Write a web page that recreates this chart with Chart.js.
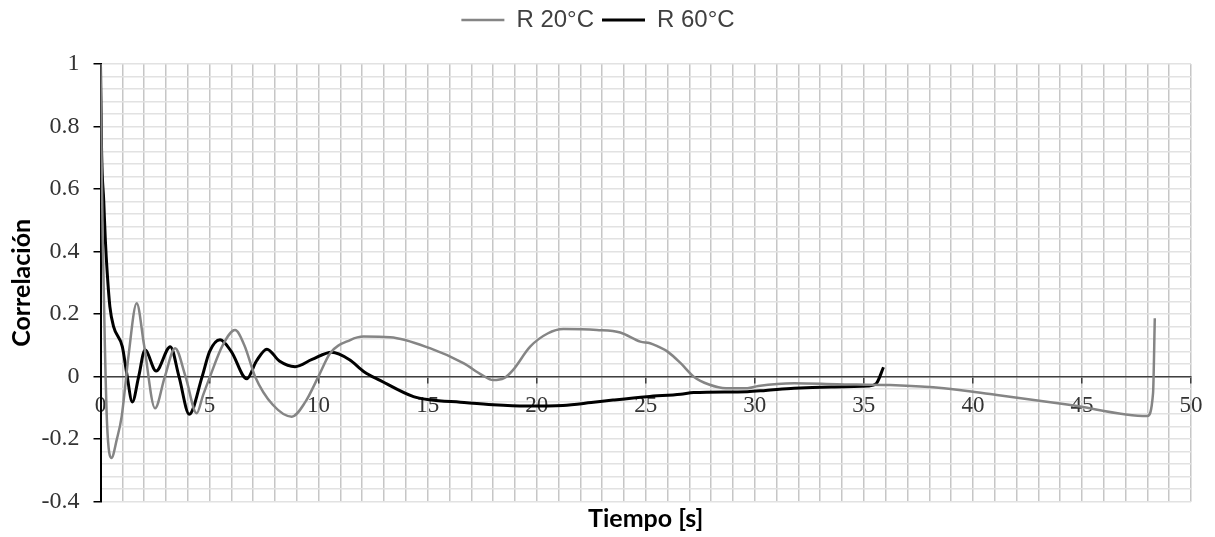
<!DOCTYPE html>
<html>
<head>
<meta charset="utf-8">
<script src="https://cdn.jsdelivr.net/npm/chart.js@4/dist/chart.umd.min.js"></script>
<style>
    html, body { margin: 0; padding: 0; background: #fff; }
</style>
</head>
<body>
<canvas id="corrChart" width="1215" height="537"></canvas>
<script>
// R 20°C
const timeR20 = [0, 0.05, 0.1, 0.2, 0.3, 0.5, 0.75, 0.97, 1.15, 1.28, 1.66, 2.0, 2.5, 2.95, 3.42, 3.9, 4.41, 4.7,
    5.02, 5.6, 6.17, 6.6, 7.09, 7.9, 8.77, 9.4, 9.99, 10.53, 11.45, 12.06, 13.28, 15.1, 16.64, 17.5, 18.0, 18.5,
    18.9, 19.7, 20.5, 21.23, 22.76, 23.83, 24.75, 25.2, 25.57, 26.0, 26.6, 27.2, 27.9, 28.68, 29.66, 30.16, 31.8,
    33.76, 36.2, 38.67, 41.1, 44.4, 48.0, 48.26, 48.34];
const corrR20 = [1, 0.7, 0.45, 0.1, -0.15, -0.26, -0.2, -0.128, -0.02, 0.064, 0.235, 0.1, -0.101, 0.0, 0.091, 0.0, -0.117, -0.06,
    0.0, 0.1, 0.149, 0.1, 0.0, -0.09, -0.128, -0.08, 0.0, 0.075, 0.117, 0.128, 0.126, 0.091, 0.043, 0.005, -0.011, -0.005,
    0.02, 0.096, 0.138, 0.152, 0.149, 0.141, 0.112, 0.107, 0.096, 0.08, 0.043, 0.0, -0.025, -0.037, -0.037, -0.03, -0.021,
    -0.024, -0.027, -0.037, -0.059, -0.09, -0.126, -0.053, 0.187];

// R 60°C
const timeR60 = [0, 0.05, 0.15, 0.22, 0.31, 0.43, 0.6, 1.0, 1.2, 1.46, 1.75, 2.04, 2.55, 3.2, 3.6, 4.07, 4.66, 5.0,
    5.48, 6.0, 6.71, 7.15, 7.63, 8.2, 8.92, 9.7, 10.6, 11.4, 12.08, 12.82, 14.35, 15.1, 16.5, 18.0, 19.5, 21.2, 22.5,
    23.5, 25.05, 26.6, 27.2, 29.66, 30.5, 31.8, 33.5, 35.2, 35.57, 35.9];
const corrR60 = [1, 0.72, 0.56, 0.44, 0.33, 0.224, 0.16, 0.096, 0.012, -0.081, 0.0, 0.085, 0.018, 0.096, 0.0, -0.12, 0.0, 0.08,
    0.118, 0.08, -0.007, 0.05, 0.088, 0.05, 0.032, 0.055, 0.078, 0.055, 0.016, -0.012, -0.064, -0.074, -0.082, -0.09, -0.094, -0.092, -0.083,
    -0.075, -0.064, -0.056, -0.051, -0.048, -0.044, -0.037, -0.033, -0.03, -0.022, 0.03];

const xTickLabels = [0, 5, 10, 15, 20, 25, 30, 35, 40, 45, 50];
const yTickLabels = ['-0.4', '-0.2', '0', '0.2', '0.4', '0.6', '0.8', '1'];

const toPoints = (xs, ys) => xs.map((x, i) => ({ x, y: ys[i] }));

const isMajorX = v => xTickLabels.includes(Math.round(v * 1000) / 1000);
const majorYLabel = v => {
    const r = Math.round(v * 5);
    if (Math.abs(v * 5 - r) > 1e-6) return null;
    const idx = r + 2;
    return yTickLabels[idx] !== undefined ? yTickLabels[idx] : null;
};

// push the plot down below the legend
const legendSpacer = {
    id: 'legendSpacer',
    beforeInit(chart) {
        const origFit = chart.legend.fit;
        chart.legend.fit = function () {
            origFit.bind(chart.legend)();
            this.height += 22;
        };
    }
};

const serifTicks = "'Liberation Serif', 'DejaVu Serif', serif";
const sansTitle = "Lato, 'Liberation Sans', sans-serif";
const LEFT_PAD = 5;
const PLOT_LEFT = 100.5;
const BOTTOM_PAD = 1;
const PLOT_BOTTOM = 501.7;
const CANVAS_H = 537;

new Chart(document.getElementById('corrChart').getContext('2d'), {
    type: 'line',
    data: {
        datasets: [
            {
                label: 'R 20°C',
                data: toPoints(timeR20, corrR20),
                borderColor: '#858585',
                backgroundColor: '#858585',
                borderWidth: 2.5,
                pointRadius: 0,
                cubicInterpolationMode: 'monotone',
                xAxisID: 'x',
                yAxisID: 'y'
            },
            {
                label: 'R 60°C',
                data: toPoints(timeR60, corrR60),
                borderColor: '#000000',
                backgroundColor: '#000000',
                borderWidth: 3,
                pointRadius: 0,
                cubicInterpolationMode: 'monotone',
                xAxisID: 'x',
                yAxisID: 'y'
            }
        ]
    },
    options: {
        responsive: false,
        animation: false,
        layout: { padding: { left: LEFT_PAD, right: 24, top: 0, bottom: BOTTOM_PAD } },
        plugins: {
            legend: {
                position: 'top',
                labels: {
                    usePointStyle: true,
                    pointStyle: 'line',
                    pointStyleWidth: 43,
                    padding: 8,
                    color: '#404040',
                    font: { family: "'Liberation Sans', Arial, sans-serif", size: 24 }
                }
            },
            tooltip: { enabled: false }
        },
        scales: {
            x: {
                type: 'linear',
                position: { y: 0 },
                min: 0,
                max: 50,
                grid: {
                    color: '#c6c6c6',
                    lineWidth: 1.5,
                    tickLength: 6,
                    tickColor: ctx => isMajorX(ctx.tick.value) ? '#404040' : 'rgba(0,0,0,0)'
                },
                border: { color: '#404040', width: 1.5 },
                ticks: {
                    stepSize: 1,
                    autoSkip: false,
                    maxRotation: 0,
                    padding: 10,
                    color: '#333',
                    font: { family: serifTicks, size: 23 },
                    callback: v => isMajorX(v) ? String(v) : ''
                }
            },
            xTitle: {
                type: 'linear',
                position: 'bottom',
                min: 0,
                max: 50,
                afterFit: scale => { scale.height = CANVAS_H - BOTTOM_PAD - PLOT_BOTTOM; },
                grid: { display: false },
                border: { display: false },
                ticks: { display: false },
                title: {
                    display: true,
                    text: 'Tiempo [s]',
                    color: '#000',
                    font: { family: sansTitle, size: 25, weight: 'bold' },
                    padding: { top: 2, bottom: 2 }
                }
            },
            y: {
                min: -0.4,
                max: 1,
                afterFit: scale => { scale.width = PLOT_LEFT - LEFT_PAD; },
                grid: {
                    color: '#e2e2e2',
                    lineWidth: 1.5,
                    tickLength: 7,
                    tickColor: ctx => majorYLabel(ctx.tick.value) !== null ? '#000' : 'rgba(0,0,0,0)'
                },
                border: { color: '#000', width: 2 },
                ticks: {
                    stepSize: 0.04,
                    autoSkip: false,
                    padding: 14,
                    color: '#333',
                    font: { family: serifTicks, size: 24 },
                    callback: v => {
                        const lbl = majorYLabel(v);
                        return lbl === null ? '' : lbl;
                    }
                },
                title: {
                    display: true,
                    text: 'Correlación',
                    color: '#000',
                    font: { family: sansTitle, size: 25, weight: 'bold' },
                    padding: { top: 2, bottom: 2 }
                }
            }
        }
    },
    plugins: [legendSpacer]
});
</script>
</body>
</html>
